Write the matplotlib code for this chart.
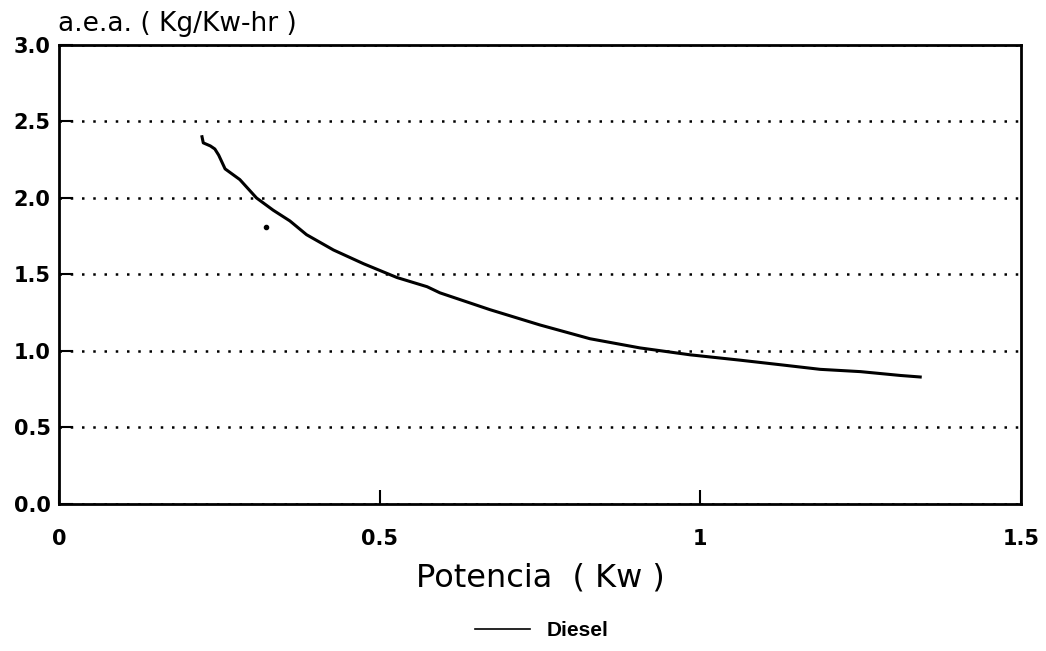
import numpy as np
import matplotlib.pyplot as plt

## data
potencia = [0.223, 0.225, 0.236, 0.243, 0.249, 0.259, 0.282, 0.308, 0.334, 0.360, 0.386,
            0.428, 0.475, 0.527, 0.574, 0.594, 0.672, 0.750, 0.828, 0.906, 0.984,
            1.062, 1.125, 1.187, 1.250, 1.312, 1.343]
aea = [2.40, 2.36, 2.34, 2.32, 2.28, 2.19, 2.12, 2.00, 1.92, 1.85, 1.76,
       1.66, 1.57, 1.48, 1.42, 1.38, 1.27, 1.17, 1.08, 1.02, 0.975,
       0.94, 0.91, 0.88, 0.865, 0.84, 0.83]
stray_x = [0.323]
stray_y = [1.81]

xticks = [0, 0.5, 1, 1.5]
xticklabels = ['0', '0.5', '1', '1.5']
yticks = [0.0, 0.5, 1.0, 1.5, 2.0, 2.5, 3.0]

fig = plt.figure(figsize=(10.46, 6.51), dpi=100)
ax = fig.add_axes([0.0564, 0.2258, 0.9196, 0.7052])

ax.plot(potencia, aea, color='black', lw=2.2, label='Diesel')
ax.plot(stray_x, stray_y, 'o', color='black', ms=3)

ax.set_xlim(0, 1.5)
ax.set_ylim(0, 3.0)
ax.set_xticks(xticks)
ax.set_xticklabels(xticklabels)
ax.set_yticks(yticks)
ax.set_yticklabels(['%.1f' % v for v in yticks])

for s in ax.spines.values():
    s.set_linewidth(2)
    s.set_color('black')

ax.tick_params(axis='both', direction='in', length=10, width=1.5, colors='black')
ax.tick_params(axis='x', pad=18)
ax.tick_params(axis='y', pad=6)
for lab in ax.get_xticklabels() + ax.get_yticklabels():
    lab.set_fontfamily('DejaVu Sans')
    lab.set_fontweight('bold')
    lab.set_fontsize(15)

ax.yaxis.grid(True, color='black', linestyle=(0, (1, 3.5)), lw=1.8)
ax.set_axisbelow(True)

ax.set_xlabel('Potencia  ( Kw )', family='DejaVu Sans', fontsize=23, labelpad=10)
fig.text(0.055, 0.952, 'a.e.a. ( Kg/Kw-hr )', family='DejaVu Sans', fontsize=19,
         ha='left', va='baseline')

fig.legend(loc='lower center', bbox_to_anchor=(0.518, -0.012), frameon=False,
           handlelength=2.6, prop={'family': 'Liberation Sans', 'weight': 'bold', 'size': 15})
leg = fig.legends[0]
for h in leg.get_lines():
    h.set_linewidth(1.2)

fig.savefig('out.png', dpi=100)
